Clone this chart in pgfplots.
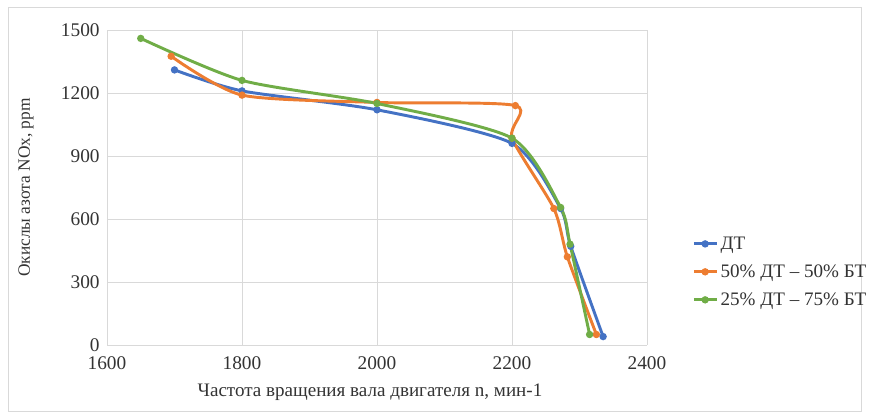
\documentclass[border=0pt]{standalone}
\usepackage{pgfplots}
\pgfplotsset{compat=1.18}
\usepackage{fontspec}
\setmainfont{Liberation Serif}
\definecolor{cblue}{HTML}{4472C4}
\definecolor{corange}{HTML}{ED7D31}
\definecolor{cgreen}{HTML}{70AD47}
\definecolor{cgrid}{HTML}{D9D9D9}
\begin{document}
\begin{tikzpicture}
\path[use as bounding box] (0,0) rectangle (652.5pt,312.75pt);
\draw[cgrid, line width=0.6pt] (6pt,4pt) rectangle (646pt,307pt);
\begin{axis}[
  at={(80.25pt,54pt)}, anchor=south west,
  scale only axis, width=405pt, height=236.25pt,
  xmin=1600, xmax=2400, ymin=0, ymax=1500,
  xtick={1600,1800,...,2400}, ytick={0,300,...,1500},
  grid=major, grid style={cgrid, line width=0.6pt},
  axis line style={cgrid, line width=0.6pt},
  axis lines*=left,
  tick style={draw=none},
  /pgf/number format/assume math mode=true,
  /pgf/number format/set thousands separator={},
  ticklabel style={font=\fontsize{14.5}{16}\selectfont, text=black!80},
  xticklabel style={yshift=-5pt},
  yticklabel style={xshift=-2pt},
  xlabel={Частота вращения вала двигателя n, мин-1},
  ylabel={Окислы азота NOx, ppm},
  xlabel style={font=\fontsize{14.3}{16}\selectfont, text=black!80, at={(axis description cs:0.487,-0.149)}, anchor=center},
  ylabel style={font=\fontsize{13}{15}\selectfont, text=black!80, at={(axis description cs:-0.15,0.5)}, anchor=center},
  legend style={draw=none, fill=none, at={(1.076,0.232)}, anchor=west,
    font=\fontsize{14.3}{16}\selectfont, text=black!80, row sep=6pt},
  legend cell align=left,
  every axis plot/.append style={line width=2.2pt, smooth, tension=0.42, mark=*, mark size=1.6pt},
]
\addplot[cblue, mark options={fill=cblue}] coordinates {
(1700,1310) (1800,1210) (2000,1120) (2200,960) (2272,650) (2287,470) (2335,40)};
\addplot[corange, mark options={fill=corange}] coordinates {
(1695,1375) (1800,1190) (2000,1155) (2205,1140) (2200,985) (2262,650) (2282,420) (2325,50)};
\addplot[cgreen, mark options={fill=cgreen}] coordinates {
(1650,1460) (1800,1260) (2000,1150) (2200,985) (2272,655) (2286,480) (2315,50)};
\legend{ДТ, 50\% ДТ – 50\% БТ, 25\% ДТ – 75\% БТ}
\end{axis}
\end{tikzpicture}
\end{document}
